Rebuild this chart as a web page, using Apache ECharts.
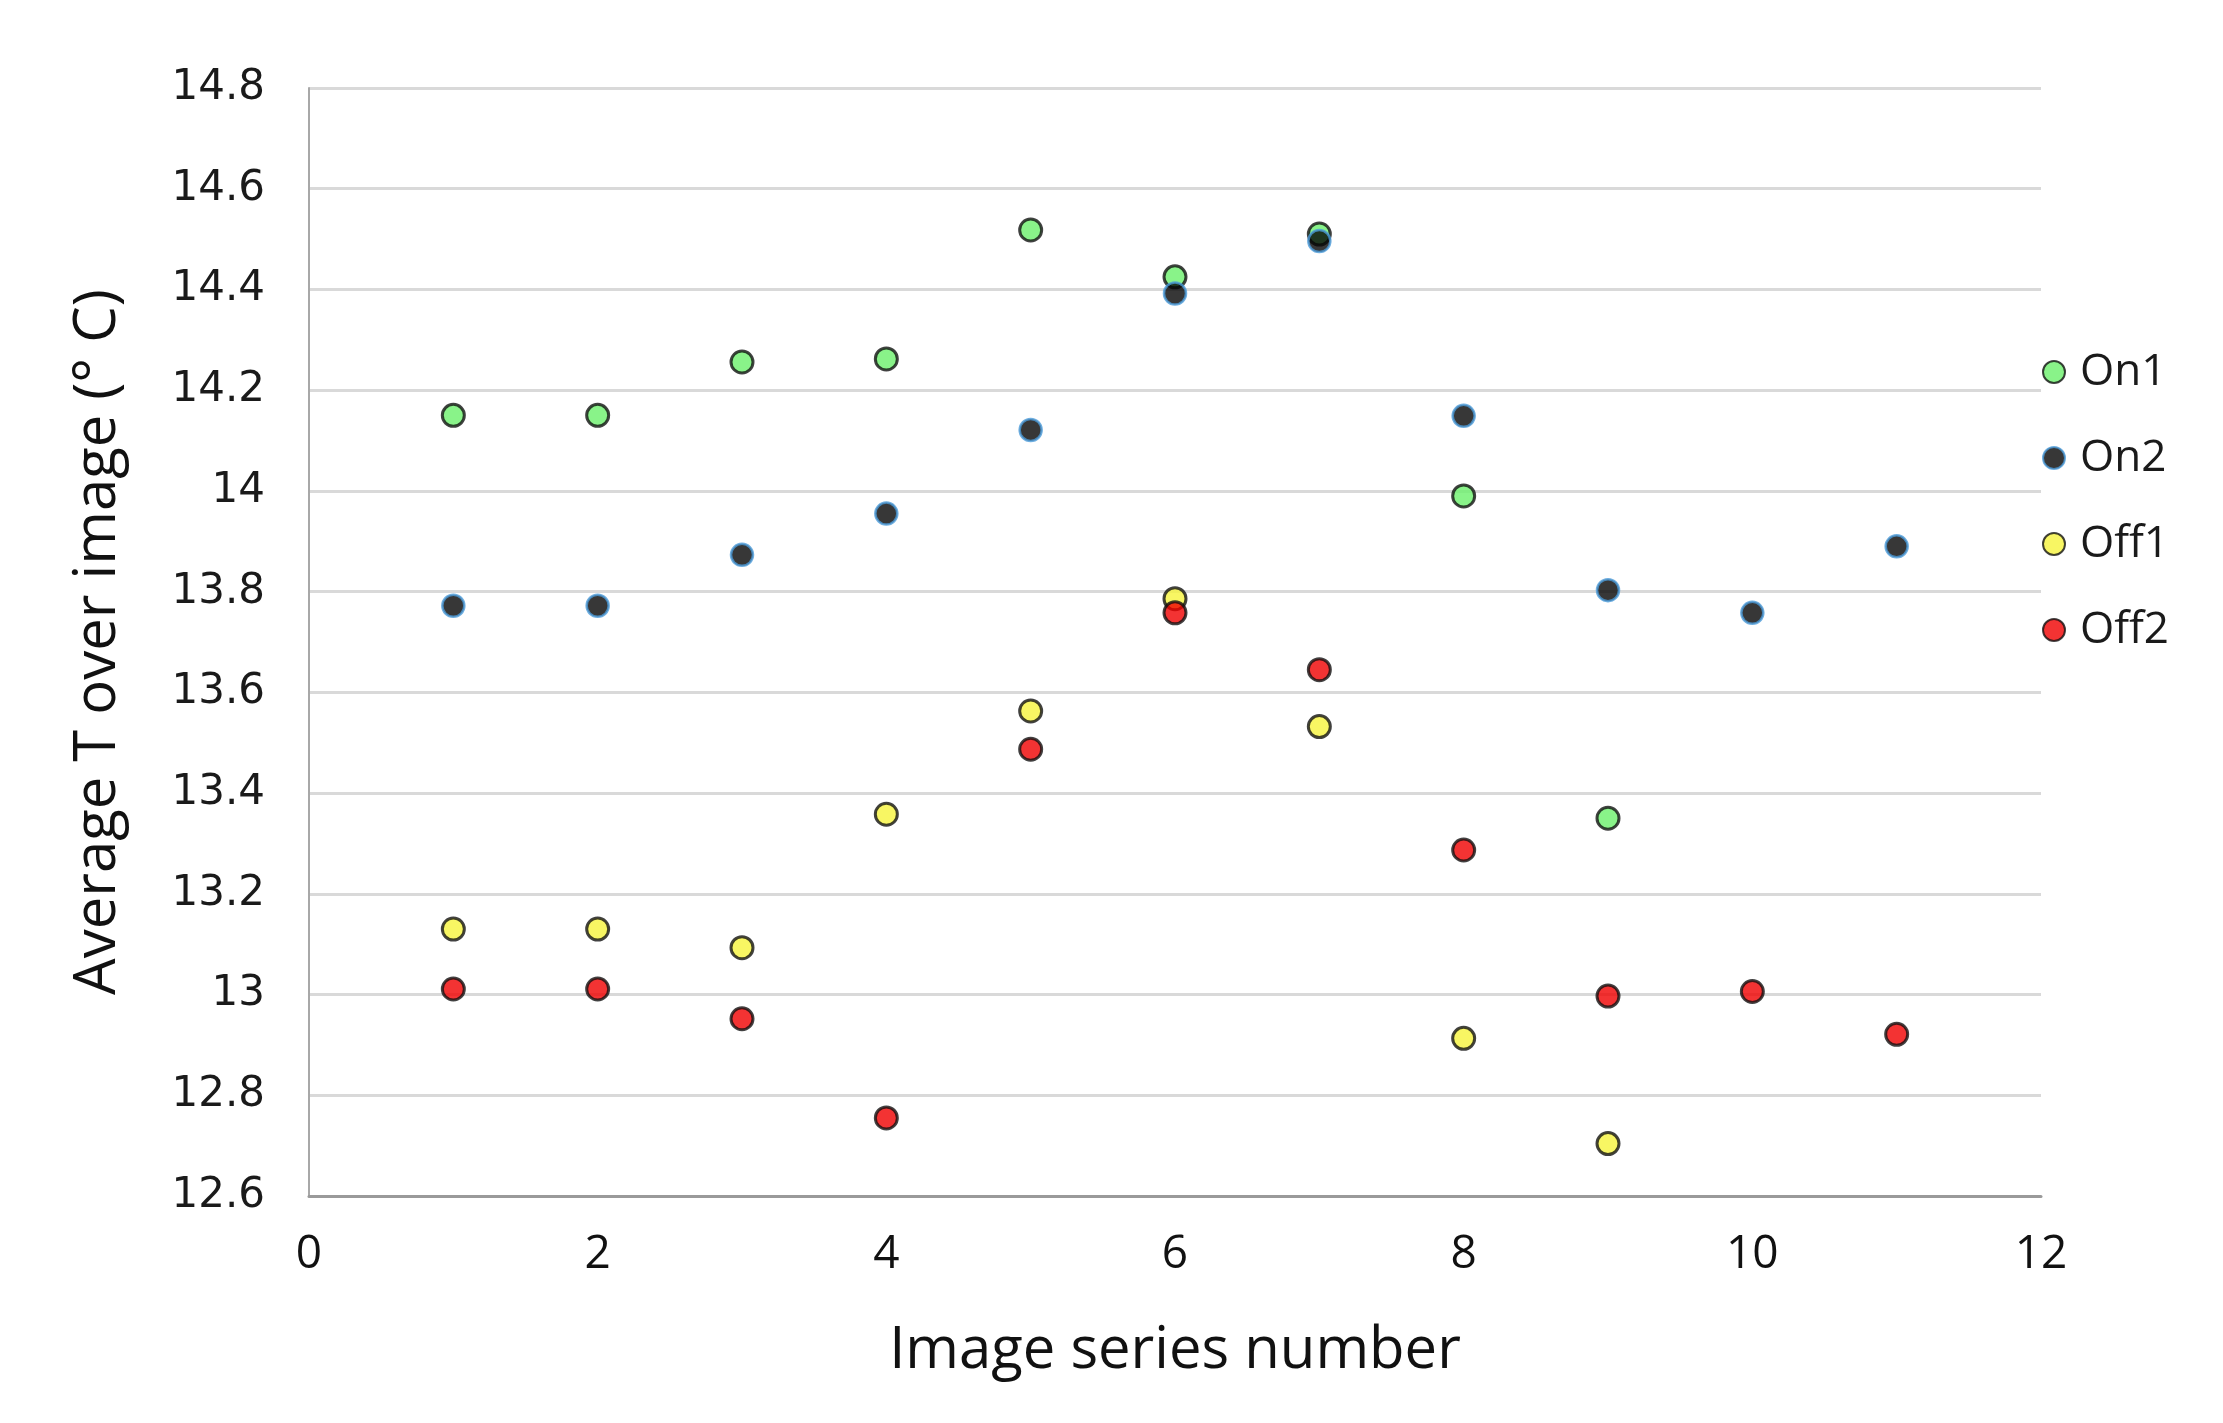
<!DOCTYPE html>
<html>
<head>
<meta charset="utf-8">
<script src="https://cdn.jsdelivr.net/npm/echarts@6/dist/echarts.min.js"></script>
<style>
html,body{margin:0;padding:0;background:#fff;}
#chart{width:2223px;height:1423px;}
</style>
</head>
<body>
<div id="chart"></div>
<script>
// Data
const seriesNames = ['On1', 'On2', 'Off1', 'Off2'];
const on1X = [1, 2, 3, 4, 5, 6, 7, 8, 9];
const on1Y = [14.15, 14.15, 14.256, 14.262, 14.518, 14.425, 14.51, 13.99, 13.35];
const on2X = [1, 2, 3, 4, 5, 6, 7, 8, 9, 10, 11];
const on2Y = [13.772, 13.772, 13.873, 13.955, 14.121, 14.392, 14.496, 14.149, 13.803, 13.758, 13.89];
const off1X = [1, 2, 3, 4, 5, 6, 7, 8, 9];
const off1Y = [13.13, 13.13, 13.093, 13.358, 13.563, 13.786, 13.532, 12.913, 12.704];
const off2X = [1, 2, 3, 4, 5, 6, 7, 8, 9, 10, 11];
const off2Y = [13.011, 13.011, 12.952, 12.755, 13.487, 13.758, 13.645, 13.287, 12.997, 13.006, 12.921];

const xTitle = 'Image series number';
const yTitle = 'Average T over image (° C)';

function pairs(xs, ys) { return xs.map((x, i) => [x, ys[i]]); }

const styles = {
  On1: { color: '#6cf06c', borderColor: '#111', borderWidth: 3 },
  On2: { color: '#050505', borderColor: '#4a9ad8', borderWidth: 2.5 },
  Off1: { color: '#f6f43c', borderColor: '#111', borderWidth: 3 },
  Off2: { color: '#f00000', borderColor: '#111', borderWidth: 3 }
};
const dataSets = {
  On1: pairs(on1X, on1Y), On2: pairs(on2X, on2Y),
  Off1: pairs(off1X, off1Y), Off2: pairs(off2X, off2Y)
};

const chart = echarts.init(document.getElementById('chart'), null, { renderer: 'canvas' });
chart.setOption({
  animation: false,
  backgroundColor: '#ffffff',
  grid: { left: 309, right: 182, top: 88, bottom: 227, containLabel: false },
  legend: {
    orient: 'vertical',
    left: 2037,
    top: 341,
    icon: 'circle',
    itemWidth: 22,
    itemHeight: 22,
    itemGap: 34,
    data: seriesNames,
    textStyle: { fontFamily: 'Liberation Sans Narrow, Open Sans, sans-serif', fontSize: 44, color: '#1a1a1a', lineHeight: 52, padding: [0, 0, 0, 10] }
  },
  xAxis: {
    type: 'value', min: 0, max: 12, interval: 2,
    name: xTitle, nameLocation: 'middle', nameGap: 126,
    nameTextStyle: { fontFamily: 'Liberation Sans Narrow, Open Sans, sans-serif', fontSize: 58, color: '#111' },
    axisLine: { show: true, lineStyle: { color: '#9a9a9a', width: 3 } },
    axisTick: { show: false },
    splitLine: { show: false },
    axisLabel: { margin: 36, fontFamily: 'Liberation Sans Narrow, Open Sans, sans-serif', fontSize: 46, color: '#111' }
  },
  yAxis: {
    type: 'value', min: 12.6, max: 14.8, interval: 0.2,
    name: yTitle, nameLocation: 'middle', nameGap: 182, nameRotate: 90,
    nameTextStyle: { fontFamily: 'Liberation Sans Narrow, Open Sans, sans-serif', fontSize: 58, color: '#111' },
    axisLine: { show: true, lineStyle: { color: '#a8a8a8', width: 2 } },
    axisTick: { show: false },
    splitLine: { show: true, lineStyle: { color: '#d9d9d9', width: 3 } },
    axisLabel: {
      margin: 44, fontFamily: 'DejaVu Sans, sans-serif', fontSize: 42, color: '#1a1a1a',
      formatter: v => String(Math.round(v * 10) / 10)
    }
  },
  series: seriesNames.map(n => ({
    name: n,
    type: 'scatter',
    symbol: 'circle',
    symbolSize: 22,
    itemStyle: styles[n],
    data: dataSets[n]
  }))
});
</script>
</body>
</html>
